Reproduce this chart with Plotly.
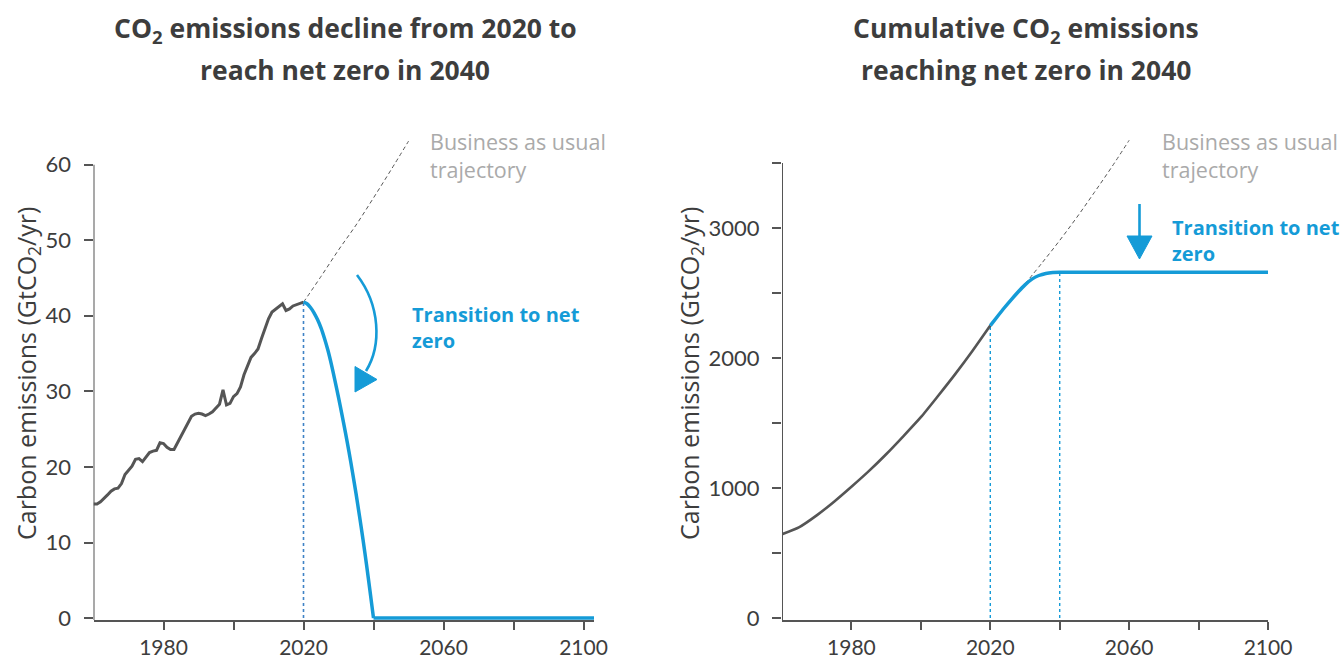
import plotly.graph_objects as go

W, H = 1341, 660

# ---------------- data: left panel (annual emissions, GtCO2/yr) ----------------
hist_years = list(range(1960, 2021))
hist_emissions = [
    15.1, 15.1, 15.4, 15.8, 16.3, 16.8, 17.1, 17.2, 17.8, 19.0,
    19.6, 20.1, 21.0, 21.1, 20.7, 21.3, 21.9, 22.1, 22.2, 23.2,
    23.1, 22.6, 22.3, 22.3, 23.2, 24.0, 25.0, 26.0, 26.7, 27.0,
    27.1, 27.0, 26.8, 27.0, 27.3, 27.8, 28.3, 30.2, 28.2, 28.4,
    29.3, 29.7, 30.6, 32.2, 33.4, 34.5, 35.0, 35.6, 37.0, 38.3,
    39.6, 40.5, 40.9, 41.2, 41.6, 40.7, 40.9, 41.3, 41.5, 41.6,
    41.8,
]
transition_years = list(range(2020, 2041))
transition_emissions = [
    41.8, 41.6, 41.1, 40.4, 39.5, 38.4, 37.0, 35.4, 33.5, 31.4,
    29.2, 26.9, 24.5, 22.0, 19.3, 16.5, 13.5, 10.4, 7.1, 3.6, 0.0,
]
netzero_years = [2040, 2103]
netzero_emissions = [0.0, 0.0]
bau_left_years = [2020, 2025, 2030, 2035, 2040, 2045, 2050]
bau_left_values = [41.8, 45.2, 48.7, 52.0, 55.6, 59.3, 63.1]

# ---------------- data: right panel (cumulative emissions, GtCO2) ----------------
cum_hist_years = [1960, 1965, 1970, 1975, 1980, 1985, 1990, 1995, 2000, 2005, 2010, 2015, 2020]
cum_hist_values = [645, 700, 790, 895, 1010, 1130, 1260, 1400, 1545, 1710, 1880, 2060, 2250]
cum_trans_years = [2020, 2022, 2024, 2026, 2028, 2030, 2032, 2034, 2036, 2038, 2040, 2100]
cum_trans_values = [2250, 2318, 2385, 2448, 2508, 2563, 2607, 2635, 2651, 2658, 2660, 2660]
bau_right_years = [2030, 2035, 2040, 2045, 2050, 2055, 2060]
bau_right_values = [2570, 2735, 2905, 3085, 3275, 3470, 3675]

# ---------------- ticks ----------------
x_tickvals = [1980, 2020, 2060, 2100]
x_minor_tickvals = [2000, 2040, 2080]
left_y_tickvals = [0, 10, 20, 30, 40, 50, 60]
right_y_tickvals = [0, 1000, 2000, 3000]
right_y_minor_tickvals = [500, 1500, 2500, 3500]

GREY = "#555555"
BLUE = "#159bd7"
DOT_BLUE_L = "#3f83c6"
TEXT = "#3d3d3d"
LIGHT = "#aaaaaa"
TICK_FONT = "Lato"
FONT = "Open Sans"


def px(x):
    return x / W


def py(y):
    return 1 - y / H


fig = go.Figure()

# left panel traces
fig.add_trace(go.Scatter(x=[transition_years[0], transition_years[0]], y=[0, transition_emissions[0]],
                         mode="lines", line=dict(color=DOT_BLUE_L, width=1.6, dash="dot"),
                         xaxis="x", yaxis="y", hoverinfo="skip"))
fig.add_trace(go.Scatter(x=bau_left_years, y=bau_left_values, mode="lines",
                         line=dict(color=GREY, width=1, dash="4px,3px", shape="spline"),
                         xaxis="x", yaxis="y"))
fig.add_trace(go.Scatter(x=hist_years, y=hist_emissions, mode="lines",
                         line=dict(color=GREY, width=3),
                         xaxis="x", yaxis="y"))
fig.add_trace(go.Scatter(x=netzero_years, y=netzero_emissions, mode="lines",
                         line=dict(color=BLUE, width=3.5),
                         xaxis="x", yaxis="y"))
fig.add_trace(go.Scatter(x=transition_years, y=transition_emissions, mode="lines",
                         line=dict(color=BLUE, width=3.5, shape="spline", smoothing=0.6),
                         xaxis="x", yaxis="y"))

# right panel traces
fig.add_trace(go.Scatter(x=[cum_trans_years[0], cum_trans_years[0]], y=[0, cum_trans_values[0]],
                         mode="lines", line=dict(color=BLUE, width=1.4, dash="dot"),
                         xaxis="x2", yaxis="y2"))
fig.add_trace(go.Scatter(x=[cum_trans_years[-2], cum_trans_years[-2]], y=[0, cum_trans_values[-2]],
                         mode="lines", line=dict(color=BLUE, width=1.4, dash="dot"),
                         xaxis="x2", yaxis="y2"))
fig.add_trace(go.Scatter(x=bau_right_years, y=bau_right_values, mode="lines",
                         line=dict(color=GREY, width=1, dash="4px,3px", shape="spline"),
                         xaxis="x2", yaxis="y2"))
fig.add_trace(go.Scatter(x=cum_hist_years, y=cum_hist_values, mode="lines",
                         line=dict(color=GREY, width=2.6, shape="spline", smoothing=0.6),
                         xaxis="x2", yaxis="y2"))
fig.add_trace(go.Scatter(x=cum_trans_years, y=cum_trans_values, mode="lines",
                         line=dict(color=BLUE, width=3.5, shape="spline", smoothing=0.6),
                         xaxis="x2", yaxis="y2"))

ydom = [1 - 620 / H, 1 - 135 / H]
tickfont = dict(family=TICK_FONT, size=22, color=TEXT)
xtickfont = dict(family=TICK_FONT, size=21, color=TEXT)

xcommon = dict(showgrid=False, zeroline=False, showline=True, linecolor=GREY, linewidth=2,
               ticks="outside", ticklen=8, tickwidth=1.6, tickcolor=GREY,
               tickmode="array", tickvals=x_tickvals, tickfont=xtickfont,
               minor=dict(ticks="outside", ticklen=8, tickwidth=1.6, tickcolor=GREY,
                          tickmode="array", tickvals=x_minor_tickvals, showgrid=False),
               ticklabelstandoff=0, automargin=False)
ycommon = dict(showgrid=False, zeroline=False, showline=False,
               ticks="outside", ticklen=9, tickwidth=1.6, tickcolor=GREY,
               tickmode="array", tickfont=tickfont, ticklabelstandoff=8, domain=ydom,
               automargin=False)

fig.update_layout(
    width=W, height=H,
    margin=dict(l=0, r=0, t=0, b=0, pad=0, autoexpand=False),
    paper_bgcolor="white", plot_bgcolor="white",
    showlegend=False,
    xaxis=dict(xcommon, domain=[px(93.5), px(594)], range=[1960, 2103], anchor="y"),
    yaxis=dict(ycommon, range=[-0.25, 63.92], tickvals=left_y_tickvals, anchor="x"),
    xaxis2=dict(xcommon, domain=[px(782), px(1268)], range=[1960, 2100], anchor="y2"),
    yaxis2=dict(ycommon, range=[-15, 3715.8], tickvals=right_y_tickvals, anchor="x2",
                minor=dict(ticks="outside", ticklen=9, tickwidth=1.6, tickcolor=GREY,
                           tickmode="array", tickvals=right_y_minor_tickvals, showgrid=False)),
)

# y axis lines (stop at the top tick, as in the original)
fig.add_shape(type="line", xref="x", yref="y", x0=1960, x1=1960, y0=-0.25, y1=60,
              line=dict(color=GREY, width=2))
fig.add_shape(type="line", xref="x2", yref="y2", x0=1960, x1=1960, y0=-15, y1=3500,
              line=dict(color=GREY, width=2))

# left curved arrow
fig.add_shape(type="path", xref="paper", yref="paper",
              path=f"M {px(357)},{py(275)} C {px(380)},{py(305)} {px(382)},{py(345)} {px(366)},{py(371)}",
              line=dict(color=BLUE, width=2.6))
fig.add_shape(type="path", xref="paper", yref="paper",
              path=f"M {px(355)},{py(366.5)} L {px(377)},{py(379.5)} L {px(355)},{py(392)} Z",
              fillcolor=BLUE, line=dict(color=BLUE, width=1))

# right straight arrow
fig.add_shape(type="line", xref="paper", yref="paper",
              x0=px(1139.5), x1=px(1139.5), y0=py(204), y1=py(240),
              line=dict(color=BLUE, width=2.6))
fig.add_shape(type="path", xref="paper", yref="paper",
              path=f"M {px(1127)},{py(236)} L {px(1152)},{py(236)} L {px(1139.5)},{py(259)} Z",
              fillcolor=BLUE, line=dict(color=BLUE, width=1))

ann = []
title_font = dict(family=FONT, size=26.5, color=TEXT)
for text, x, y in [
    ("<b>CO<sub>2</sub> emissions decline from 2020 to</b>", 345, 30),
    ("<b>reach net zero in 2040</b>", 345, 70),
    ("<b>Cumulative CO<sub>2</sub> emissions</b>", 1026, 30),
    ("<b>reaching net zero in 2040</b>", 1026, 70),
]:
    ann.append(dict(text=text, x=px(x), y=py(y), xref="paper", yref="paper",
                    xanchor="center", yanchor="middle", showarrow=False, font=title_font))

for x in [27, 690]:
    ann.append(dict(text="Carbon emissions (GtCO<sub>2</sub>/yr)", x=px(x), y=py(374),
                    xref="paper", yref="paper", xanchor="center", yanchor="middle",
                    textangle=-90, showarrow=False,
                    font=dict(family=FONT, size=25, color=TEXT)))

for x in [428, 1160]:
    ann.append(dict(text="Business as usual<br>trajectory", x=px(x), y=py(155),
                    xref="paper", yref="paper", xanchor="left", yanchor="middle",
                    align="left", showarrow=False,
                    font=dict(family=FONT, size=21.5, color=LIGHT)))

for x, y in [(410, 327), (1170, 240)]:
    ann.append(dict(text="<b>Transition to net<br>zero</b>", x=px(x), y=py(y),
                    xref="paper", yref="paper", xanchor="left", yanchor="middle",
                    align="left", showarrow=False,
                    font=dict(family=FONT, size=20, color=BLUE)))

fig.update_layout(annotations=ann)

fig.write_html("out.html",
               config={"displayModeBar": False},
               post_script="document.body.style.margin='0';document.body.style.overflow='hidden';")
